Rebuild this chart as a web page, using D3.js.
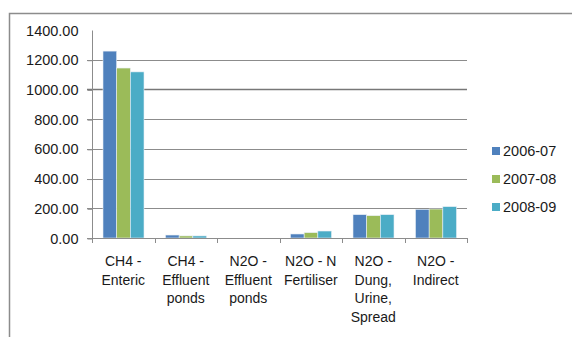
<!DOCTYPE html>
<html><head><meta charset="utf-8">
<script src="https://cdn.jsdelivr.net/npm/d3@7"></script>
<style>
html,body{margin:0;padding:0;background:#fff;}
text{font-family:"Liberation Sans",Arial,sans-serif;fill:#1a1a1a;}
</style></head>
<body>
<svg id="c" width="572" height="337"></svg>
<script>
const categories = [["CH4 -","Enteric"],["CH4 -","Effluent","ponds"],["N2O -","Effluent","ponds"],["N2O - N","Fertiliser"],["N2O -","Dung,","Urine,","Spread"],["N2O -","Indirect"]];
const seriesNames = ["2006-07","2007-08","2008-09"];
const s2006 = [1258, 20, 0, 27, 157, 193];
const s2007 = [1144, 14, 0, 36, 150, 195];
const s2008 = [1118, 14, 0, 47, 157, 211];
const yTicks = [0,200,400,600,800,1000,1200,1400];
const colors = ["#4F81BD","#9BBB59","#4BACC6"];

const svg = d3.select("#c");
// outer frame
svg.append("path").attr("d","M9.5,340 V13.5 H580").attr("fill","none").attr("stroke","#8c8c8c").attr("stroke-width",1.5);

const x0 = 92, x1 = 467, yTop = 30, yBot = 238;
const x = d3.scaleBand().domain(d3.range(categories.length)).range([x0,x1]).paddingInner(0).paddingOuter(0);
const y = d3.scaleLinear().domain([0,1400]).range([yBot,yTop]);
const groupPad = 11;
const xs = d3.scaleBand().domain(d3.range(3)).range([groupPad, x.bandwidth()-groupPad+0.5]);

// gridlines
svg.append("g").selectAll("line").data(yTicks.filter(t=>t>0 && t<1400)).join("line")
  .attr("x1",x0-5).attr("x2",x1).attr("y1",d=>Math.round(y(d))+0.5).attr("y2",d=>Math.round(y(d))+0.5)
  .attr("stroke",d=>d===1000?"#777":"#8c8c8c").attr("stroke-width",d=>d===1000?1.6:1);

// y axis
const yAxis = d3.axisLeft(y).tickValues(yTicks).tickFormat(d3.format(".2f")).tickSize(5).tickPadding(9);
const ga = svg.append("g").attr("transform",`translate(${x0+0.5},0.5)`).call(yAxis);
ga.select(".domain").attr("stroke","#8c8c8c").attr("d",`M0,${yTop}V${yBot}`);
ga.selectAll(".tick line").attr("stroke","#8c8c8c");
ga.selectAll(".tick").filter(d=>d===1400).select("line").remove();
ga.selectAll("text").attr("font-size",14.5).attr("fill","#1a1a1a").style("font-family","Liberation Sans, Arial, sans-serif");

// bars
const series = [s2006,s2007,s2008];
series.forEach((vals,si)=>{
  svg.append("g").selectAll("rect").data(vals.map((v,i)=>({v,i})).filter(d=>d.v>0)).join("rect")
    .attr("x",d=>x(d.i)+xs(si))
    .attr("y",d=>y(d.v))
    .attr("width",xs.bandwidth())
    .attr("height",d=>yBot-y(d.v))
    .attr("fill",colors[si])
    .attr("stroke","#e8eef5").attr("stroke-width",0.6);
});

// x axis
const xAxis = d3.axisBottom(x).tickSize(0).tickFormat("");
const gx = svg.append("g").attr("transform",`translate(0,${yBot+0.5})`).call(xAxis);
gx.select(".domain").attr("stroke","#8c8c8c").attr("d",`M${x0-5},0H${x1}`);
svg.append("g").selectAll("line").data(d3.range(categories.length+1)).join("line")
  .attr("x1",i=>Math.round(i<categories.length?x(i):x1)+0.5).attr("x2",i=>Math.round(i<categories.length?x(i):x1)+0.5)
  .attr("y1",yBot).attr("y2",yBot+5).attr("stroke","#8c8c8c");

// x labels
const lab = svg.append("g").selectAll("text").data(categories).join("text")
  .attr("text-anchor","middle").attr("font-size",14)
  .attr("x",(d,i)=>x(i)+x.bandwidth()/2).attr("y",266);
lab.selectAll("tspan").data(d=>d).join("tspan")
  .attr("x",function(){return this.parentNode.getAttribute("x");})
  .attr("dy",(d,i)=>i===0?0:18.7).text(d=>d);

// legend
const lg = svg.append("g").selectAll("g").data(seriesNames).join("g")
  .attr("transform",(d,i)=>`translate(492,${151+i*28})`);
lg.append("rect").attr("x",0).attr("y",-4).attr("width",8).attr("height",8).attr("fill",(d,i)=>colors[i]);
lg.append("text").attr("x",11).attr("y",5).attr("font-size",14.5).text(d=>d);
</script>
</body></html>
